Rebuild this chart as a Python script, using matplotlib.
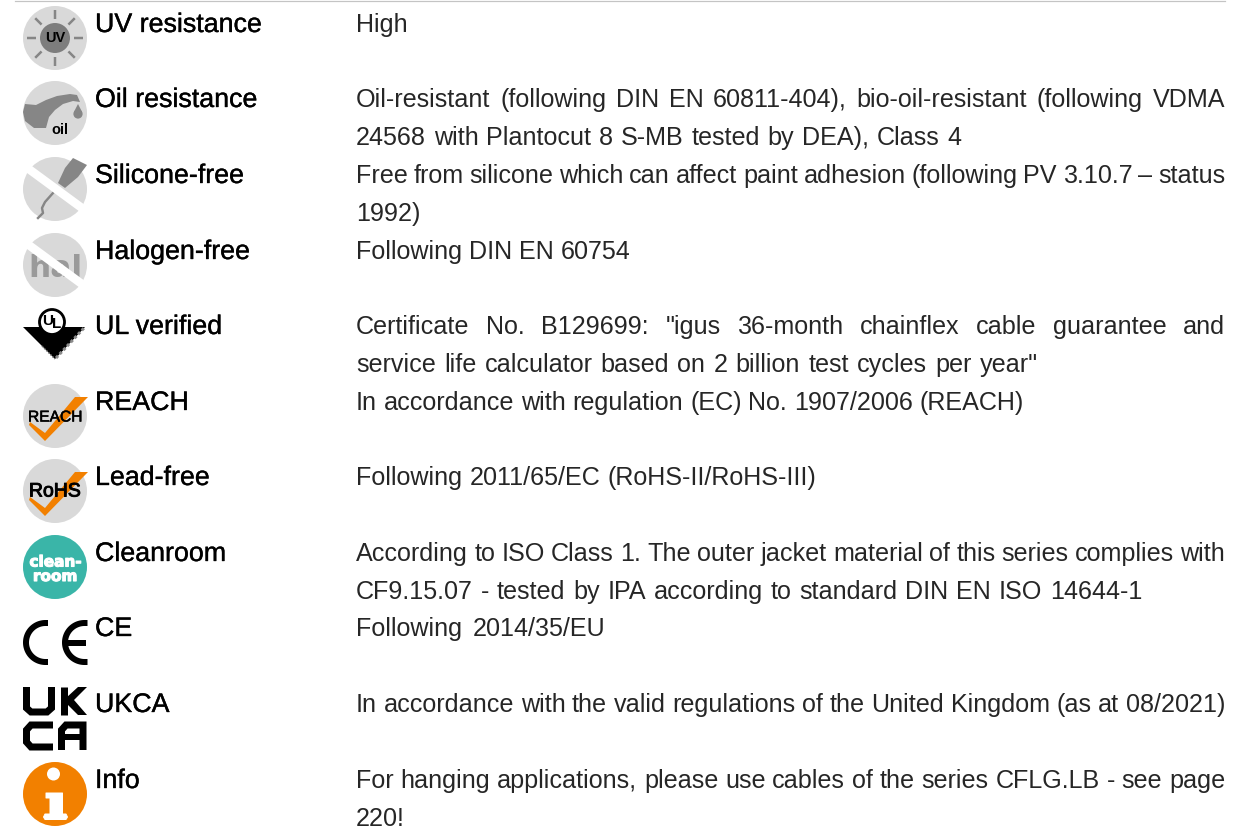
#!/usr/bin/env python3
"""Cable properties table with icons, redrawn in pixel coordinates."""

import numpy as np
import matplotlib
matplotlib.use('Agg')
import matplotlib.pyplot as plt
from matplotlib.patches import Circle, Polygon
import matplotlib.patheffects as pe

labels = ['UV resistance', 'Oil resistance', 'Silicone-free', 'Halogen-free', 'UL verified',
          'REACH', 'Lead-free', 'Cleanroom', 'CE', 'UKCA', 'Info']
first_lines = [
    'High',
    'Oil-resistant (following DIN EN 60811-404), bio-oil-resistant (following VDMA',
    'Free from silicone which can affect paint adhesion (following PV 3.10.7 – status',
    'Following DIN EN 60754',
    'Certificate No. B129699: "igus 36-month chainflex cable guarantee and',
    'In accordance with regulation (EC) No. 1907/2006 (REACH)',
    'Following 2011/65/EC (RoHS-II/RoHS-III)',
    'According to ISO Class 1. The outer jacket material of this series complies with',
    'Following 2014/35/EU',
    'In accordance with the valid regulations of the United Kingdom (as at 08/2021)',
    'For hanging applications, please use cables of the series CFLG.LB - see page',
]
second_lines = [
    None,
    '24568 with Plantocut 8 S-MB tested by DEA), Class 4',
    '1992)',
    None,
    'service life calculator based on 2 billion test cycles per year"',
    None,
    None,
    'CF9.15.07 - tested by IPA according to standard DIN EN ISO 14644-1',
    None,
    None,
    '220!',
]
# right edge of each text line in the reference
first_ends = [408, 1225, 1225, 631, 1225, 1024, 816, 1225, 606, 1225, 1225]
second_ends = [None, 961, 420, None, 1038, None, None, 1142, None, None, 406]
baselines = [32, 107, 183, 259, 334, 410, 485, 561, 636, 712, 788]

FONT = 'Liberation Sans'
GREY = '#d9d9d9'
MID = '#868686'
ORANGE = '#f28000'
TEAL = '#3ab5a8'
TEXT = '#262626'
SIZE = 18.1

fig = plt.figure(figsize=(12.55, 8.3), dpi=100)
ax = fig.add_axes([0, 0, 1, 1])
ax.set_xlim(0, 1255)
ax.set_ylim(830, 0)
ax.axis('off')

renderer = fig.canvas.get_renderer()


def px(w):
    return w * 0.72


def put_line(line, x0, x1, y):
    # spread the words out so the line ends where it does in the reference
    words = line.split(' ')
    items = [ax.text(x0, y, w, family=FONT, fontsize=SIZE, color=TEXT, va='baseline') for w in words]
    if len(words) == 1:
        return
    widths = [t.get_window_extent(renderer).width for t in items]
    gap = (x1 - x0 - sum(widths)) / (len(words) - 1)
    x = x0
    for t, w in zip(items, widths):
        t.set_x(x)
        x += w + gap


def icon_text(x, y, s, size, color='black', weight='bold', family=FONT, stroke=0):
    t = ax.text(x, y, s, family=family, fontsize=size, color=color, fontweight=weight,
                ha='center', va='center')
    if stroke:
        t.set_path_effects([pe.withStroke(linewidth=stroke, foreground=color)])
    return t


def disc(y, color=GREY):
    ax.add_patch(Circle((55, y), 32, fc=color, ec='none'))


def band(y):
    ax.plot([24, 88], [y - 23.5, y + 23.5], color='white', lw=px(8.5), solid_capstyle='butt', zorder=4)


def thick(xs, ys, w=7.0, color='black', join='miter'):
    ax.plot(xs, ys, color=color, lw=px(w), solid_capstyle='butt', solid_joinstyle=join)


def icon_uv(y):
    disc(y)
    for a in np.arange(0, 360, 45):
        c, s = np.cos(np.radians(a)), np.sin(np.radians(a))
        ax.plot([55 + 19 * c, 55 + 28 * c], [y + 19 * s, y + 28 * s], color=MID, lw=px(2.5),
                solid_capstyle='butt')
    ax.add_patch(Circle((55, y), 15, fc='#7d7d7d', ec='none'))
    icon_text(55, y + 0.5, 'UV', 10.5)


def icon_oil(y):
    disc(y)
    d = y - 113
    body = [(23, 112), (25, 104), (36, 105), (46, 100), (57, 96), (70, 94), (77, 95), (80, 102),
            (73, 101), (63, 104), (55, 110), (49, 117), (46, 128), (34, 128), (25, 121)]
    ax.add_patch(Polygon([(a, b + d) for a, b in body], fc=MID, ec='none'))
    ax.add_patch(Circle((78, 114 + d), 4.6, fc=MID, ec='none'))
    ax.add_patch(Polygon([(73.6, 112.5 + d), (78, 104 + d), (82.4, 112.5 + d)], fc=MID, ec='none'))
    icon_text(59.5, 130.5 + d, 'oil', 10.5)


def icon_silicone(y):
    disc(y)
    d = y - 189
    bottle = [(73, 158), (87, 165), (78, 177), (65, 188), (58, 183), (65, 168)]
    ax.add_patch(Polygon([(a, b + d) for a, b in bottle], fc=MID, ec='none'))
    crack_x = [53, 45, 42, 43, 38]
    crack_y = [193, 202, 208, 213, 218]
    ax.plot(crack_x, [c + d for c in crack_y], color=MID, lw=px(2.4))
    band(y)


def icon_hal(y):
    disc(y)
    ax.text(55, y + 12, 'hal', family='DejaVu Sans', fontsize=22.5, fontweight='bold', color='#9a9a9a',
            ha='center', va='baseline', zorder=1.5)
    band(y)


def icon_ul(y):
    ax.add_patch(Polygon([(23, y - 11), (85, y - 11), (55, y + 21)], fc='black', ec='none'))
    ax.plot([56, 84], [y + 20, y - 10], color='#8a8a8a', lw=px(3), ls=(0, (1, 0.8)))
    ax.plot([42, 55], [y + 8, y + 21], color='#6a6a6a', lw=px(1.5), ls=(0, (1, 1)))
    ax.add_patch(Circle((52, y - 16), 12.5, fc='white', ec='black', lw=px(2.8), zorder=3))
    ax.text(48, y - 17.5, 'U', family=FONT, fontsize=11, fontweight='bold', ha='center', va='center', zorder=4)
    ax.text(56.5, y - 14, 'L', family=FONT, fontsize=11, fontweight='bold', ha='center', va='center', zorder=4)


def icon_check(y, s, size, stroke):
    disc(y)
    check = [(30, y + 6), (45, y + 17), (75, y - 19), (88, y - 19), (45, y + 25), (29, y + 9)]
    ax.add_patch(Polygon(check, fc=ORANGE, ec='none'))
    icon_text(55, y + 1, s, size, weight='normal', stroke=stroke)


def icon_clean(y):
    disc(y, TEAL)
    icon_text(55.5, y - 5, 'clean-', 11, color='white', family='DejaVu Sans', stroke=0.8)
    icon_text(55, y + 9.5, 'room', 11, color='white', family='DejaVu Sans', stroke=0.8)


def arc(cx, xend, y, r=19.5):
    t = np.radians(np.linspace(90, 270, 60))
    xs = np.r_[xend, cx + r * np.cos(t), xend]
    ys = np.r_[y + r, y + r * np.sin(t), y - r]
    return xs, ys


def icon_ce(y):
    xs, ys = arc(45.5, 48, y)
    thick(xs, ys, 6)
    xs, ys = arc(84.5, 87.5, y)
    thick(xs, ys, 6)
    thick([65, 86], [y, y], 6)


def icon_ukca(y):
    top, bot = y - 32, y - 7
    thick([26.5, 26.5, 31, 47, 51.5, 51.5], [top, bot - 4, bot, bot, bot - 4, top])
    thick([63.5, 63.5], [top, y - 4])
    # K arms, drawn as shapes so they stop flat at the top and bottom of the letter
    ax.add_patch(Polygon([(78, top), (87, top), (74, y - 19), (87, y - 4), (78, y - 4), (66, y - 16), (66, y - 21)],
                         fc='black', ec='none'))
    t2, b2 = y + 6, y + 28
    thick([53, 31, 26.5, 26.5, 31, 53], [t2, t2, t2 + 5, b2 - 5, b2, b2])
    thick([61.5, 61.5, 66, 83, 83], [y + 31, t2 + 5, t2, t2, y + 31])
    thick([61.5, 83], [y + 18, y + 18], 6)


def icon_info(y):
    disc(y, ORANGE)
    d = y - 794
    ax.add_patch(Circle((53.5, 774 + d), 6.5, fc='white', ec='none'))
    stem = [(46, 793), (62.5, 793), (62.5, 814), (66, 814), (67.5, 817), (66, 819.5), (45, 819.5), (43.5, 817), (45, 814),
            (50, 814), (50, 798), (46, 798)]
    ax.add_patch(Polygon([(a, b + d) for a, b in stem], fc='white', ec='white', lw=px(1), joinstyle='round'))


ax.plot([15, 1225], [1, 1], color='#c4c4c4', lw=px(1.2))

for label, first, second, end1, end2, y in zip(labels, first_lines, second_lines, first_ends, second_ends, baselines):
    t = ax.text(95, y, label, family=FONT, fontsize=19.3, color='black', va='baseline')
    t.set_path_effects([pe.withStroke(linewidth=0.25, foreground='black')])
    put_line(first, 356, end1, y)
    if second is not None:
        put_line(second, 356, end2, y + 38)

icon_uv(38)
icon_oil(113)
icon_silicone(189)
icon_hal(265)
icon_ul(338)
icon_check(416, 'REACH', 11.2, 0.4)
icon_check(491, 'RoHS', 14, 0.7)
icon_clean(567)
icon_ce(642.5)
icon_ukca(719)
icon_info(794)

fig.savefig('out.png', dpi=100)
plt.close(fig)
